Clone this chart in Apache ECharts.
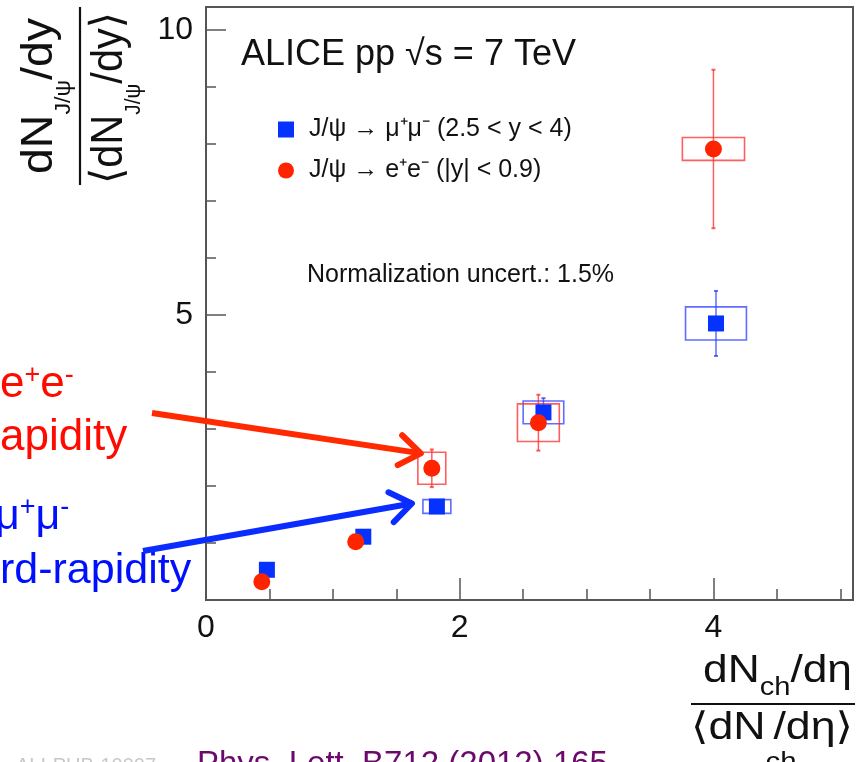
<!DOCTYPE html>
<html>
<head>
<meta charset="utf-8">
<script src="https://cdn.jsdelivr.net/npm/echarts@6/dist/echarts.min.js"></script>
<style>
  html, body { margin: 0; padding: 0; background: #fff; }
  #chart { width: 859px; height: 762px; }
</style>
</head>
<body>
<div id="chart"></div>
<script>
// Relative J/psi yield versus relative charged-particle multiplicity, ALICE pp at 7 TeV.

// J/psi -> mu+ mu-, forward rapidity (2.5 < y < 4)
const muX    = [0.48, 1.24, 1.82, 2.66, 4.02];
const muY    = [0.53, 1.11, 1.64, 3.29, 4.85];
const muStat = [0.04, 0.06, 0.09, 0.25, 0.57];
const muSysX = [0.04, 0.04, 0.11, 0.16, 0.24];
const muSysY = [0.04, 0.05, 0.12, 0.20, 0.29];

// J/psi -> e+ e-, mid rapidity (|y| < 0.9)
const eeX    = [0.44, 1.18, 1.78, 2.62, 4.00];
const eeY    = [0.32, 1.02, 2.31, 3.11, 7.91];
const eeStat = [0.07, 0.10, 0.33, 0.49, 1.39];
const eeSysX = [0.04, 0.04, 0.11, 0.165, 0.245];
const eeSysY = [0.05, 0.07, 0.28, 0.33, 0.20];

// Labelled ticks
const xTickLabels = [0, 2, 4];
const yTickLabels = [5, 10];

const MU_NAME = 'J/ψ → μ⁺μ⁻ (2.5 < y < 4)';
const EE_NAME = 'J/ψ → e⁺e⁻ (|y| < 0.9)';

const FONT = '"Liberation Sans", Arial, Helvetica, sans-serif';
const FONT_SYM = '"DejaVu Sans", sans-serif';
const BLUE = '#0532ff';
const RED = '#ff2400';
const BLUE_LINE = 'rgba(40,60,255,0.75)';
const RED_LINE = 'rgba(255,40,40,0.75)';
const INK = '#111';
const FRAME = '#555';

const GRID = { left: 206, top: 7, width: 647, height: 593 };
const X_RANGE = [0, 5.1];
const Y_RANGE = [0, 10.4];

// systematic-uncertainty boxes
function sysBoxes(xs, ys, hx, hy, color) {
  return {
    type: 'custom', silent: true, xAxisIndex: 0, yAxisIndex: 0,
    encode: { x: 0, y: 1 },
    data: xs.map((x, i) => [x, ys[i], hx[i], hy[i]]),
    renderItem(params, api) {
      const x = api.value(0), y = api.value(1), dx = api.value(2), dy = api.value(3);
      const a = api.coord([x - dx, y + dy]);
      const b = api.coord([x + dx, y - dy]);
      return {
        type: 'rect',
        shape: { x: a[0], y: a[1], width: b[0] - a[0], height: b[1] - a[1] },
        style: { fill: 'none', stroke: color, lineWidth: 1.6 }
      };
    }
  };
}

// statistical error bars with small end caps
function statBars(xs, ys, err, color) {
  return {
    type: 'custom', silent: true, xAxisIndex: 0, yAxisIndex: 0,
    encode: { x: 0, y: 1 },
    data: xs.map((x, i) => [x, ys[i], err[i]]),
    renderItem(params, api) {
      const x = api.value(0), y = api.value(1), e = api.value(2);
      const t = api.coord([x, y + e]);
      const b = api.coord([x, y - e]);
      return {
        type: 'group',
        children: [
          { type: 'line', shape: { x1: t[0], y1: t[1], x2: b[0], y2: b[1] }, style: { stroke: color, lineWidth: 1.5 } },
          { type: 'line', shape: { x1: t[0] - 2, y1: t[1], x2: t[0] + 2, y2: t[1] }, style: { stroke: color, lineWidth: 2 } },
          { type: 'line', shape: { x1: b[0] - 2, y1: b[1], x2: b[0] + 2, y2: b[1] }, style: { stroke: color, lineWidth: 2 } }
        ]
      };
    }
  };
}

const chart = echarts.init(document.getElementById('chart'), null, { renderer: 'canvas' });

const baseAxis = {
  type: 'value',
  splitLine: { show: false },
  axisLine: { show: false }
};

chart.setOption({
  animation: false,
  backgroundColor: '#fff',
  grid: [
    Object.assign({ show: true, borderColor: FRAME, borderWidth: 2, backgroundColor: 'transparent' }, GRID),
    Object.assign({ show: false }, GRID)
  ],
  xAxis: [
    Object.assign({}, baseAxis, {
      gridIndex: 0, min: X_RANGE[0], max: X_RANGE[1], interval: 2,
      axisTick: { show: true, inside: true, length: 22, lineStyle: { color: FRAME, width: 1.5 } },
      axisLabel: {
        show: true, margin: 12, fontSize: 32, fontFamily: FONT, color: INK,
        formatter: v => (xTickLabels.indexOf(v) >= 0 ? String(v) : '')
      }
    }),
    Object.assign({}, baseAxis, {
      gridIndex: 1, min: X_RANGE[0], max: X_RANGE[1], interval: 0.5,
      axisTick: { show: true, inside: true, length: 11, lineStyle: { color: FRAME, width: 1.5 } },
      axisLabel: { show: false }
    })
  ],
  yAxis: [
    Object.assign({}, baseAxis, {
      gridIndex: 0, min: Y_RANGE[0], max: Y_RANGE[1], interval: 5,
      axisTick: { show: true, inside: true, length: 20, lineStyle: { color: FRAME, width: 1.5 } },
      axisLabel: {
        show: true, margin: 13, fontSize: 32, fontFamily: FONT, color: INK,
        formatter: v => (yTickLabels.indexOf(v) >= 0 ? String(v) : '')
      }
    }),
    Object.assign({}, baseAxis, {
      gridIndex: 1, min: Y_RANGE[0], max: Y_RANGE[1], interval: 1,
      axisTick: { show: true, inside: true, length: 10, lineStyle: { color: FRAME, width: 1.5 } },
      axisLabel: { show: false }
    })
  ],
  legend: {
    orient: 'vertical', left: 273, top: 112,
    itemWidth: 16, itemHeight: 16, itemGap: 16,
    selectedMode: false,
    data: [{ name: MU_NAME, icon: 'rect' }, { name: EE_NAME, icon: 'circle' }],
    textStyle: { fontSize: 25, fontFamily: FONT, color: INK, padding: [0, 0, 0, 10] }
  },
  series: [
    sysBoxes(muX, muY, muSysX, muSysY, BLUE_LINE),
    statBars(muX, muY, muStat, BLUE_LINE),
    {
      type: 'scatter', name: MU_NAME, xAxisIndex: 0, yAxisIndex: 0,
      symbol: 'rect', symbolSize: 16, itemStyle: { color: BLUE, opacity: 1 },
      data: muX.map((x, i) => [x, muY[i]])
    },
    sysBoxes(eeX, eeY, eeSysX, eeSysY, RED_LINE),
    statBars(eeX, eeY, eeStat, RED_LINE),
    {
      type: 'scatter', name: EE_NAME, xAxisIndex: 0, yAxisIndex: 0,
      symbol: 'circle', symbolSize: 17, itemStyle: { color: RED, opacity: 1 },
      data: eeX.map((x, i) => [x, eeY[i]])
    }
  ]
});

// ---- text built from pieces (sub/superscripts), laid out along a baseline ----
const measure = document.createElement('canvas').getContext('2d');
function textWidth(s, size, family) {
  measure.font = size + 'px ' + family;
  return measure.measureText(s).width;
}
// piece: { t, s: fontSize, sh: baseline shift (down positive), f: family, adv: advance factor }
function formula(pieces, color) {
  let pos = 0;
  const children = [];
  pieces.forEach(p => {
    const fam = p.f || FONT;
    children.push({
      type: 'text', x: pos, y: (p.sh || 0) - 0.35 * p.s, silent: true,
      style: { text: p.t, fontSize: p.s, fontFamily: fam, fill: color, align: 'left', verticalAlign: 'middle' }
    });
    pos += textWidth(p.t, p.s, fam) * (p.adv === undefined ? 1 : p.adv);
  });
  return { children, width: pos };
}
function placed(pieces, color, x, y, opts) {
  const f = formula(pieces, color);
  const o = opts || {};
  const sx = o.length ? o.length / f.width : 1;
  return { type: 'group', x: x, y: y, rotation: o.rotation || 0, scaleX: sx, children: f.children };
}

function pixel(pt) { return chart.convertToPixel({ gridIndex: 0 }, pt); }

function arrow(from, tip, color) {
  const ang = Math.atan2(tip[1] - from[1], tip[0] - from[0]);
  const L = 26, spread = 0.62;
  const a1 = [tip[0] - L * Math.cos(ang - spread), tip[1] - L * Math.sin(ang - spread)];
  const a2 = [tip[0] - L * Math.cos(ang + spread), tip[1] - L * Math.sin(ang + spread)];
  return [
    { type: 'line', silent: true, shape: { x1: from[0], y1: from[1], x2: tip[0] - 3 * Math.cos(ang), y2: tip[1] - 3 * Math.sin(ang) },
      style: { stroke: color, lineWidth: 6 } },
    { type: 'polyline', silent: true, shape: { points: [a1, tip, a2] },
      style: { stroke: color, lineWidth: 6, fill: 'none', lineCap: 'round', lineJoin: 'round' } }
  ];
}

// arrow tips point at the third point of each series
const redTip = pixel([eeX[2] - eeSysX[2], eeY[2] + eeSysY[2]]);
const blueTip = pixel([muX[2] - muSysX[2], muY[2]]);

const ANN_RED = '#ff0a00';
const ANN_BLUE = '#0010ff';

const graphics = [
  // header text
  { type: 'text', x: 241, y: 55, silent: true,
    style: { text: 'ALICE pp √s = 7 TeV', fontSize: 36, fontFamily: FONT, fill: INK, verticalAlign: 'middle' } },
  { type: 'text', x: 307, y: 275, silent: true,
    style: { text: 'Normalization uncert.: 1.5%', fontSize: 25, fontFamily: FONT, fill: INK, verticalAlign: 'middle' } },

  // y-axis title: dN_{J/psi}/dy over <dN_{J/psi}/dy>
  placed([{ t: 'dN', s: 44 }, { t: 'J/ψ', s: 22, sh: 17 }, { t: '/dy', s: 44 }],
    INK, 55, 174, { rotation: Math.PI / 2, length: 156 }),
  { type: 'line', silent: true, shape: { x1: 80, y1: 7, x2: 80, y2: 185 }, style: { stroke: INK, lineWidth: 2.2 } },
  placed([{ t: '⟨', s: 44, f: FONT_SYM }, { t: 'dN', s: 44 }, { t: 'J/ψ', s: 22, sh: 17 }, { t: '/dy', s: 44 }, { t: '⟩', s: 44, f: FONT_SYM }],
    INK, 125, 184, { rotation: Math.PI / 2, length: 172 }),

  // x-axis title: dN_ch/deta over <dN_ch/deta>
  placed([{ t: 'dN', s: 38 }, { t: 'ch', s: 25, sh: 12 }, { t: '/dη', s: 38 }], INK, 703, 685, { length: 149 }),
  { type: 'line', silent: true, shape: { x1: 691, y1: 704, x2: 855, y2: 704 }, style: { stroke: INK, lineWidth: 2 } },
  placed([{ t: '⟨', s: 38, f: FONT_SYM }, { t: 'dN', s: 38 }, { t: 'ch', s: 25, sh: 30, adv: 0.25 }, { t: '/dη', s: 38 }, { t: '⟩', s: 38, f: FONT_SYM }],
    INK, 691, 742, { length: 162 }),

  // side annotations
  placed([{ t: 'e', s: 44 }, { t: '+', s: 27, sh: -15 }, { t: 'e', s: 44 }, { t: '-', s: 27, sh: -15 }], ANN_RED, 0, 400),
  placed([{ t: 'apidity', s: 44 }], ANN_RED, 0, 453),
  placed([{ t: 'μ', s: 43 }, { t: '+', s: 27, sh: -15 }, { t: 'μ', s: 43 }, { t: '-', s: 27, sh: -15 }], ANN_BLUE, -5, 532),
  placed([{ t: 'rd-rapidity', s: 43 }], ANN_BLUE, 0, 586),

  // reference line at the foot
  { type: 'text', x: 16, y: 773 - 0.35 * 20, silent: true,
    style: { text: 'ALI-PUB-10007', fontSize: 20, fontFamily: FONT, fill: '#c8c8c8', verticalAlign: 'middle' } },
  { type: 'text', x: 197, y: 776 - 0.35 * 33, silent: true,
    style: { text: 'Phys. Lett. B712 (2012) 165', fontSize: 33, fontFamily: FONT, fill: '#6c0a6c', verticalAlign: 'middle' } }
]
  .concat(arrow([152, 413], [redTip[0] + 3, redTip[1] + 1], '#ff2a00'))
  .concat(arrow([143, 551], [blueTip[0] - 11, blueTip[1] - 3], '#0a2cff'));

chart.setOption({ graphic: { elements: graphics } });
</script>
</body>
</html>
